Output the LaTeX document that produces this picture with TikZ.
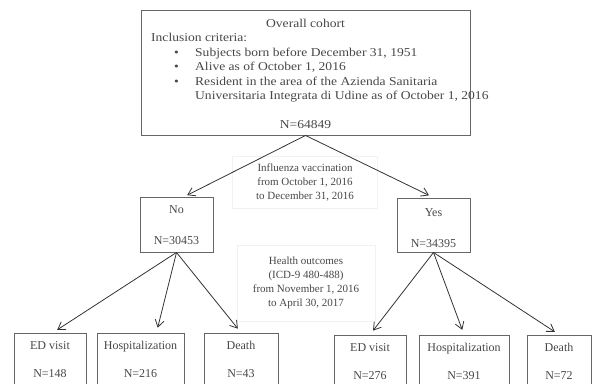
\documentclass[tikz,border=0pt]{standalone}
\usepackage{fontspec}
\setmainfont{Liberation Serif}
\newfontfamily\widefont{Liberation Serif}[FakeStretch=1.13]
\usetikzlibrary{arrows.meta,positioning}
\tikzset{
  box/.style={draw=black!60, line width=0.9pt, inner sep=0pt},
  note/.style={draw=black!5, line width=0.6pt, align=center,
    font=\fontsize{11}{14}\selectfont},
  txt/.style={text=black!72, font=\fontsize{12}{14.4}\selectfont, inner sep=0pt},
  big/.style={txt, font=\widefont\fontsize{12}{14.5}\selectfont},
  arr/.style={draw=black!80, line width=0.8pt, shorten >=5pt,
    -{Straight Barb[length=7pt,width=9pt]}},
}

\begin{document}
\begin{tikzpicture}[x=1pt,y=1pt]
  \useasboundingbox (0,0) rectangle (593,-383);
  % overall cohort
  \node[box, minimum width=329, minimum height=125] (cohort) at (305.5,-72.5) {};
  \node[big, anchor=base] (title) at (305.5,-27) {Overall cohort};
  \node[big, anchor=base west] (incl) at (151,-41) {Inclusion criteria:};
  \foreach \y/\t in {56/{Subjects born before December 31, 1951},
                     70/{Alive as of October 1, 2016},
                     85/{Resident in the area of the Azienda Sanitaria}}{
    \node[big, anchor=base] at (176.5,-\y) {\textbullet};
    \node[big, anchor=base west] at (195,-\y) {\t};
  }
  \node[big, anchor=base west] (udine) at (195,-99) {Universitaria Integrata di Udine as of October 1, 2016};
  \node[big, anchor=base] (ntot) at (305.5,-128) {N=64849};
  % notes
  \node[txt, note, minimum width=145, minimum height=52] (vacc) at (305,-182)
    {Influenza vaccination\\from October 1, 2016\\to December 31, 2016};
  \node[txt, note, minimum width=138, minimum height=76] (outc) at (306,-283)
    {Health outcomes\\(ICD-9 480-488)\\from November 1, 2016\\to April 30, 2017};
  % vaccination groups
  \node[box, minimum width=73, minimum height=55] (no) at (176.5,-224.5) {};
  \node[txt, anchor=base] at (176.5,-213) {No};
  \node[txt, anchor=base] at (176.5,-244) {N=30453};
  \node[box, minimum width=73, minimum height=54] (yes) at (433.5,-225) {};
  \node[txt, anchor=base] at (433.5,-216) {Yes};
  \node[txt, anchor=base] at (433.5,-247) {N=34395};
  % outcomes, no
  \node[box, minimum width=72, minimum height=60] (edNo) at (50,-363) {};
  \node[box, minimum width=87, minimum height=60] (hospNo) at (140.5,-363) {};
  \node[box, minimum width=74, minimum height=60] (deathNo) at (241,-363) {};
  \foreach \n/\a/\b in {edNo/ED visit/148, hospNo/Hospitalization/216, deathNo/Death/43}{
    \node[txt, anchor=base] at ([yshift=-17]\n.north) {\a};
    \node[txt, anchor=base] at ([yshift=-45]\n.north) {N=\b};
  }
  % outcomes, yes
  \node[box, minimum width=72, minimum height=60] (edYes) at (370,-365) {};
  \node[box, minimum width=90, minimum height=60] (hospYes) at (464,-365) {};
  \node[box, minimum width=64, minimum height=60] (deathYes) at (559,-365) {};
  \foreach \n/\a/\b in {edYes/ED visit/276, hospYes/Hospitalization/391, deathYes/Death/72}{
    \node[txt, anchor=base] at ([yshift=-17]\n.north) {\a};
    \node[txt, anchor=base] at ([yshift=-45]\n.north) {N=\b};
  }
  % arrows
  \draw[arr, shorten >=3pt] (cohort.south) -- ([xshift=8]no.north);
  \draw[arr, shorten >=5pt] (cohort.south) -- (yes.north);
  \draw[arr] (no.south) -- ([xshift=3]edNo.north);
  \draw[arr] (no.south) -- ([xshift=16]hospNo.north);
  \draw[arr] (no.south) -- (deathNo.north);
  \draw[arr] (yes.south) -- (edYes.north);
  \draw[arr] (yes.south) -- (hospYes.north);
  \draw[arr] (yes.south) -- (deathYes.north);
\end{tikzpicture}
\end{document}
